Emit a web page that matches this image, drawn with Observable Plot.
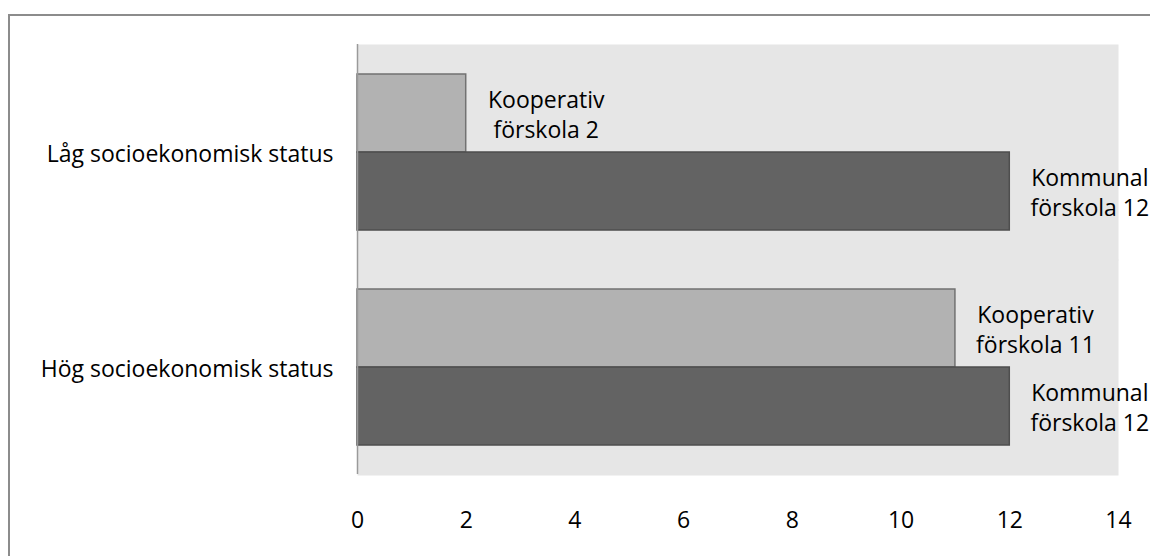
<!DOCTYPE html>
<html>
<head>
<meta charset="utf-8">
<script src="https://cdn.jsdelivr.net/npm/d3@7"></script>
<script src="https://cdn.jsdelivr.net/npm/@observablehq/plot@0.6"></script>
<style>
  html, body { margin: 0; padding: 0; background: #fff; overflow: hidden; }
  #wrap { position: relative; width: 1150px; height: 556px; }
  #border { position: absolute; left: 8px; top: 14px; width: 1160px; height: 560px;
            border-top: 2px solid #8c8c8c; border-left: 2px solid #8c8c8c; box-sizing: border-box; }
  #chart { position: absolute; left: 0; top: 0; }
</style>
</head>
<body>
<div id="wrap"><div id="border"></div><div id="chart"></div></div>
<script>
const categories = ["Låg socioekonomisk status", "Hög socioekonomisk status"];
const series = ["Kooperativ förskola", "Kommunal förskola"];
const kooperativ = [2, 11];
const kommunal = [12, 12];
const xTicks = [0, 2, 4, 6, 8, 10, 12, 14];

const data = categories.flatMap((c, i) => [
  {category: c, series: series[0], value: kooperativ[i]},
  {category: c, series: series[1], value: kommunal[i]}
]);
const koop = data.filter(d => d.series === series[0]);
const komm = data.filter(d => d.series === series[1]);

const chart = Plot.plot({
  width: 1150,
  height: 556,
  marginLeft: 357,
  marginRight: 32,
  marginTop: 44,
  marginBottom: 82,
  style: {fontFamily: "Open Sans", fontSize: "23px", color: "#000", background: "transparent"},
  x: {domain: [0, 14]},
  y: {domain: series, paddingInner: 0, paddingOuter: 0.37, axis: null},
  fy: {domain: categories, padding: 0},
  marks: [
    Plot.frame({fill: "#e6e6e6", stroke: null, insetBottom: -1}),
    Plot.barX(koop, {x: "value", y: "series", fy: "category", fill: "#b2b2b2", stroke: "#727272", strokeWidth: 1.5}),
    Plot.barX(komm, {x: "value", y: "series", fy: "category", fill: "#636363", stroke: "#4e4e4e", strokeWidth: 1.5}),
    Plot.ruleX([0], {stroke: "#9a9a9a", strokeWidth: 1.5}),
    Plot.text(data, {
      x: "value", y: "series", fy: "category",
      text: d => d.series.replace(" ", "\n") + " " + d.value,
      textAnchor: "middle", dx: 80, dy: 0, lineHeight: 1.3, fontSize: 23, fill: "#000"
    }),
    Plot.axisX({ticks: xTicks, tickSize: 0, tickPadding: 37, line: true, stroke: "#9a9a9a", fill: "#000", fontSize: 23, label: null}),
    Plot.axisFy({anchor: "left", tickSize: 0, tickPadding: 24, fontSize: 23, fill: "#000", label: null, dy: 3})
  ]
});
document.getElementById("chart").appendChild(chart);
</script>
</body>
</html>
